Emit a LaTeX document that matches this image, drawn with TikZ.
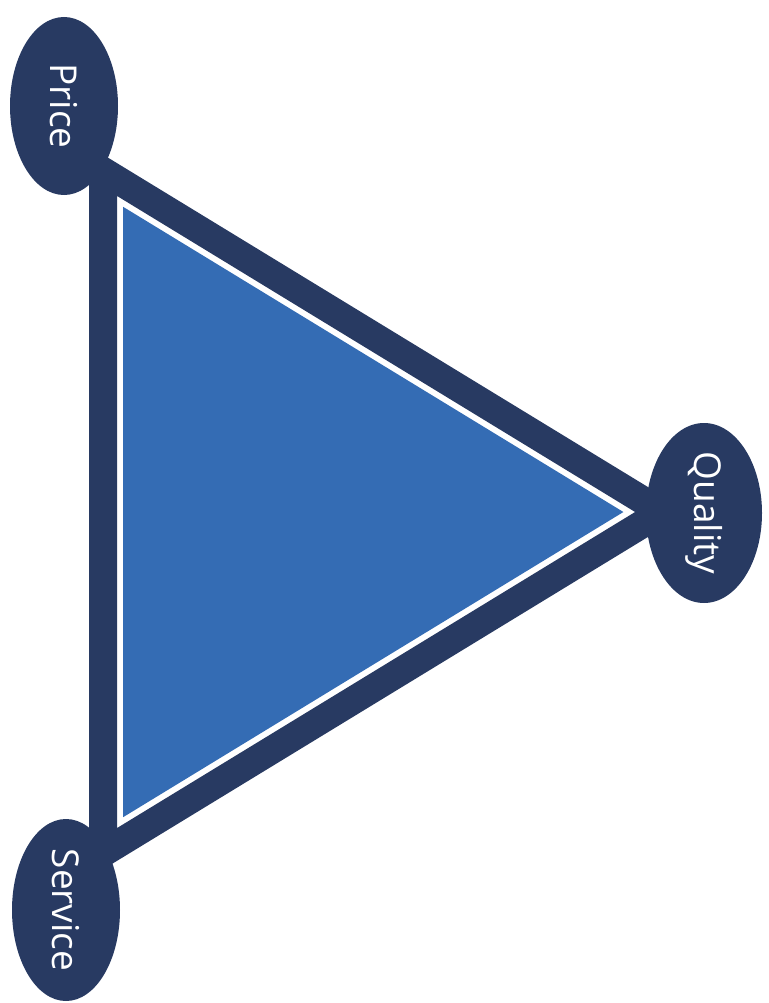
\documentclass[tikz,border=0pt]{standalone}
\usepackage{fontspec}
\setsansfont{Open Sans}
\usetikzlibrary{shapes.geometric,calc}
\definecolor{navy}{RGB}{40,58,98}
\definecolor{fillblue}{RGB}{52,108,180}

\begin{document}
\begin{tikzpicture}[x=1pt, y=-1pt,
  corner/.style={ellipse, fill=navy, text=white, rotate=-90, inner sep=0pt,
                 font=\sffamily\fontsize{37}{44}\selectfont},
  band/.style={draw=navy, line width=28pt, line join=miter}
]
  \useasboundingbox (0,0) rectangle (768,1003);

  % Triangle corners
  \coordinate (p) at (103,171);
  \coordinate (q) at (662,512);
  \coordinate (s) at (103,853);
  \coordinate (mid) at (294.4,512);

  % Dark band
  \draw[band] (p) -- (q) -- (s) -- cycle;

  % Blue inner triangle
  \fill[fillblue] ($(mid)!0.895!(p)$) -- ($(mid)!0.895!(q)$)
                  -- ($(mid)!0.895!(s)$) -- cycle;

  % Labels
  \node[corner, minimum width=178pt, minimum height=108pt] (price)   at (64,106)  {Price};
  \node[corner, minimum width=180pt, minimum height=116pt] (quality) at (704,513) {Quality};
  \node[corner, minimum width=182pt, minimum height=108pt] (service) at (66,910)  {Service};
\end{tikzpicture}
\end{document}
